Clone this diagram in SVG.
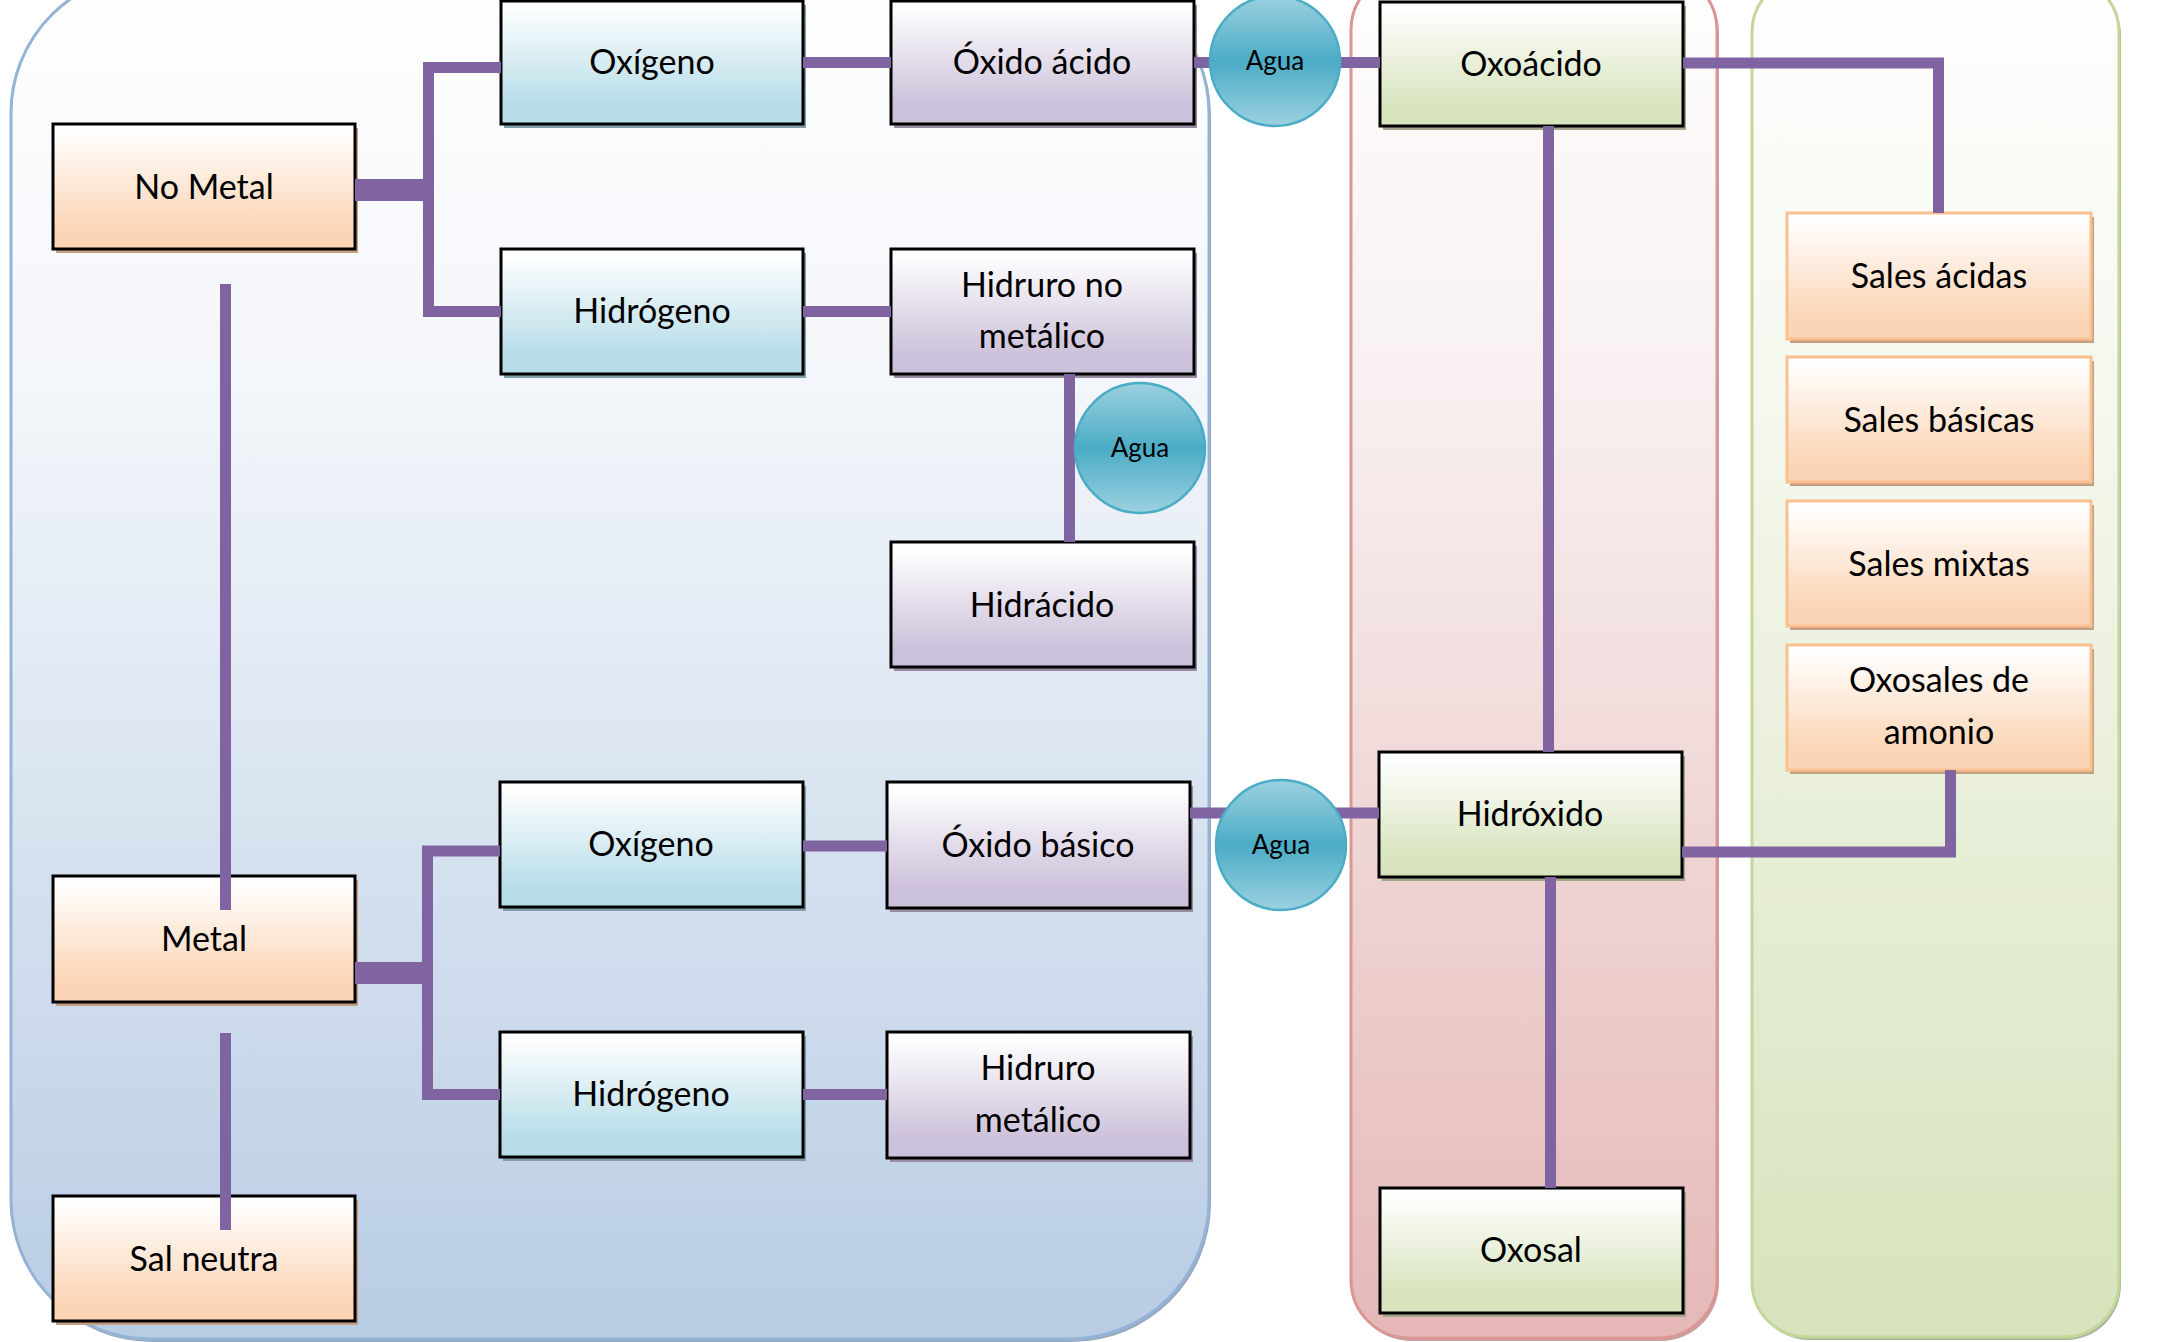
<svg xmlns="http://www.w3.org/2000/svg" width="2181" height="1342" viewBox="0 0 2181 1342">
<defs>
<linearGradient id="pBlue" x1="0" y1="0" x2="0" y2="1"><stop offset="0" stop-color="#fefefe"/><stop offset="0.3" stop-color="#f3f6fa"/><stop offset="1" stop-color="#b8cce4"/></linearGradient>
<linearGradient id="pRed" x1="0" y1="0" x2="0" y2="1"><stop offset="0" stop-color="#fefdfd"/><stop offset="0.3" stop-color="#f8f0f0"/><stop offset="1" stop-color="#e5b8b7"/></linearGradient>
<linearGradient id="pGreen" x1="0" y1="0" x2="0" y2="1"><stop offset="0" stop-color="#fefefd"/><stop offset="0.3" stop-color="#f5f8ef"/><stop offset="1" stop-color="#d7e3bc"/></linearGradient>
<linearGradient id="gOrange" x1="0" y1="0" x2="0" y2="1"><stop offset="0.05" stop-color="#ffffff"/><stop offset="0.85" stop-color="#fbd5b5"/></linearGradient>
<linearGradient id="gTeal" x1="0" y1="0" x2="0" y2="1"><stop offset="0.05" stop-color="#ffffff"/><stop offset="0.85" stop-color="#b7dde8"/></linearGradient>
<linearGradient id="gPurple" x1="0" y1="0" x2="0" y2="1"><stop offset="0.05" stop-color="#ffffff"/><stop offset="0.85" stop-color="#ccc1da"/></linearGradient>
<linearGradient id="gGreen" x1="0" y1="0" x2="0" y2="1"><stop offset="0.05" stop-color="#ffffff"/><stop offset="0.85" stop-color="#d7e4bd"/></linearGradient>
<linearGradient id="gAgua" x1="0" y1="0" x2="0" y2="1"><stop offset="0" stop-color="#9cd1e0"/><stop offset="0.5" stop-color="#4bacc6"/><stop offset="1" stop-color="#9cd1e0"/></linearGradient>
<style>
.box{stroke:#000;stroke-width:3}
.o{fill:url(#gOrange)}
.t{fill:url(#gTeal)}
.p{fill:url(#gPurple)}
.g{fill:url(#gGreen)}
.sale{fill:url(#gOrange);stroke:#fac08f;stroke-width:3}
.sh-o{fill:#c49f82}
.sh-t{fill:#809ea8}
.sh-p{fill:#978ca2}
.sh-g{fill:#a2a68a}
.lbl{font-family:Lato,"Liberation Sans",sans-serif;font-size:34px;fill:#000;text-anchor:middle}
.agua{font-family:Lato,"Liberation Sans",sans-serif;font-size:26px;fill:#000;text-anchor:middle}
.circ{fill:url(#gAgua);stroke:#4bacc6;stroke-width:2.5}
.ln{fill:none;stroke:#8064a2;stroke-width:11;stroke-linecap:butt;stroke-linejoin:miter}
.thick{fill:none;stroke:#8064a2;stroke-width:22}
</style>
</defs>

<g id="panels">
  <rect x="13" y="-23" width="1198" height="1365" rx="139" ry="139" fill="#98a8bd"/>
  <rect x="11" y="-26" width="1198" height="1365" rx="139" ry="139" fill="url(#pBlue)" stroke="#95b3d7" stroke-width="3"/>
  <rect x="1353" y="-25" width="366" height="1366" rx="58" ry="58" fill="#c9a0a0"/>
  <rect x="1351" y="-28" width="366" height="1366" rx="58" ry="58" fill="url(#pRed)" stroke="#d99694" stroke-width="3"/>
  <rect x="1754" y="-20" width="367" height="1360" rx="55" ry="55" fill="#aab59a"/>
  <rect x="1752" y="-23" width="367" height="1360" rx="55" ry="55" fill="url(#pGreen)" stroke="#c3d69b" stroke-width="3"/>
</g>

<g id="nometal"><rect class="sh-o" x="56" y="128" width="302" height="125"/><rect class="box o" x="53" y="124" width="302" height="125"/><text class="lbl" x="204" y="199">No Metal</text></g>
<g id="metal"><rect class="sh-o" x="56" y="880" width="302" height="126"/><rect class="box o" x="53" y="876" width="302" height="126"/><text class="lbl" x="204" y="951">Metal</text></g>
<g id="salneutra"><rect class="sh-o" x="56" y="1200" width="302" height="125"/><rect class="box o" x="53" y="1196" width="302" height="125"/><text class="lbl" x="204" y="1271">Sal neutra</text></g>

<g id="oxigeno1"><rect class="sh-t" x="504" y="5" width="302" height="123"/><rect class="box t" x="501" y="1" width="302" height="123"/><text class="lbl" x="652" y="74">Oxígeno</text></g>
<g id="hidrogeno1"><rect class="sh-t" x="504" y="253" width="302" height="125"/><rect class="box t" x="501" y="249" width="302" height="125"/><text class="lbl" x="652" y="323">Hidrógeno</text></g>
<g id="oxidoacido"><rect class="sh-p" x="894" y="5" width="303" height="123"/><rect class="box p" x="891" y="1" width="303" height="123"/><text class="lbl" x="1042" y="74">Óxido ácido</text></g>
<g id="hidruronometalico"><rect class="sh-p" x="894" y="253" width="303" height="125"/><rect class="box p" x="891" y="249" width="303" height="125"/><text class="lbl" x="1042" y="297">Hidruro no</text><text class="lbl" x="1042" y="348">metálico</text></g>
<g id="hidracido"><rect class="sh-p" x="894" y="546" width="303" height="125"/><rect class="box p" x="891" y="542" width="303" height="125"/><text class="lbl" x="1042" y="617">Hidrácido</text></g>

<g id="oxigeno2"><rect class="sh-t" x="503" y="786" width="303" height="125"/><rect class="box t" x="500" y="782" width="303" height="125"/><text class="lbl" x="651" y="856">Oxígeno</text></g>
<g id="hidrogeno2"><rect class="sh-t" x="503" y="1036" width="303" height="125"/><rect class="box t" x="500" y="1032" width="303" height="125"/><text class="lbl" x="651" y="1106">Hidrógeno</text></g>
<g id="oxidobasico"><rect class="sh-p" x="890" y="786" width="303" height="126"/><rect class="box p" x="887" y="782" width="303" height="126"/><text class="lbl" x="1038" y="857">Óxido básico</text></g>
<g id="hidrurometalico"><rect class="sh-p" x="890" y="1036" width="303" height="126"/><rect class="box p" x="887" y="1032" width="303" height="126"/><text class="lbl" x="1038" y="1080">Hidruro</text><text class="lbl" x="1038" y="1132">metálico</text></g>

<g id="oxoacido"><rect class="sh-g" x="1383" y="6" width="303" height="124"/><rect class="box g" x="1380" y="2" width="303" height="124"/><text class="lbl" x="1531" y="76">Oxoácido</text></g>
<g id="hidroxido"><rect class="sh-g" x="1382" y="756" width="303" height="125"/><rect class="box g" x="1379" y="752" width="303" height="125"/><text class="lbl" x="1530" y="826">Hidróxido</text></g>
<g id="oxosal"><rect class="sh-g" x="1383" y="1192" width="303" height="125"/><rect class="box g" x="1380" y="1188" width="303" height="125"/><text class="lbl" x="1531" y="1262">Oxosal</text></g>

<g id="salesacidas"><rect class="sh-o" x="1790" y="217" width="304" height="126"/><rect class="sale" x="1787" y="213" width="304" height="126"/><text class="lbl" x="1939" y="288">Sales ácidas</text></g>
<g id="salesbasicas"><rect class="sh-o" x="1790" y="361" width="304" height="125"/><rect class="sale" x="1787" y="357" width="304" height="125"/><text class="lbl" x="1939" y="432">Sales básicas</text></g>
<g id="salesmixtas"><rect class="sh-o" x="1790" y="505" width="304" height="125"/><rect class="sale" x="1787" y="501" width="304" height="125"/><text class="lbl" x="1939" y="576">Sales mixtas</text></g>
<g id="oxosalesamonio"><rect class="sh-o" x="1790" y="649" width="304" height="125"/><rect class="sale" x="1787" y="645" width="304" height="125"/><text class="lbl" x="1939" y="692">Oxosales de</text><text class="lbl" x="1939" y="744">amonio</text></g>

<g id="connectors">
  <line class="thick" x1="355" y1="190" x2="434" y2="190"/>
  <path class="ln" d="M501,67.5 H428.5 V311.5 H501"/>
  <line class="thick" x1="355" y1="973" x2="433" y2="973"/>
  <path class="ln" d="M500,851 H427.5 V1094.5 H500"/>
  <path class="ln" d="M803,62.5 H891"/>
  <path class="ln" d="M803,311.5 H891"/>
  <path class="ln" d="M1194,62.5 H1380"/>
  <path class="ln" d="M1069.5,374 V542"/>
  <path class="ln" d="M1548.5,126 V752"/>
  <path class="ln" d="M1683,63 H1938.5 V213"/>
  <path class="ln" d="M1682,852 H1950.5 V770"/>
  <path class="ln" d="M1550.5,877 V1188"/>
  <path class="ln" d="M803,846 H887"/>
  <path class="ln" d="M803,1094.5 H887"/>
  <path class="ln" d="M1190,813 H1379"/>
  <path class="ln" d="M225.5,284 V910"/>
  <path class="ln" d="M225.5,1033 V1230"/>
</g>

<g id="agua1"><circle class="circ" cx="1275" cy="61" r="65"/><text class="agua" x="1275" y="70">Agua</text></g>
<g id="agua2"><circle class="circ" cx="1140" cy="448" r="65"/><text class="agua" x="1140" y="457">Agua</text></g>
<g id="agua3"><circle class="circ" cx="1281" cy="845" r="65"/><text class="agua" x="1281" y="854">Agua</text></g>
</svg>
